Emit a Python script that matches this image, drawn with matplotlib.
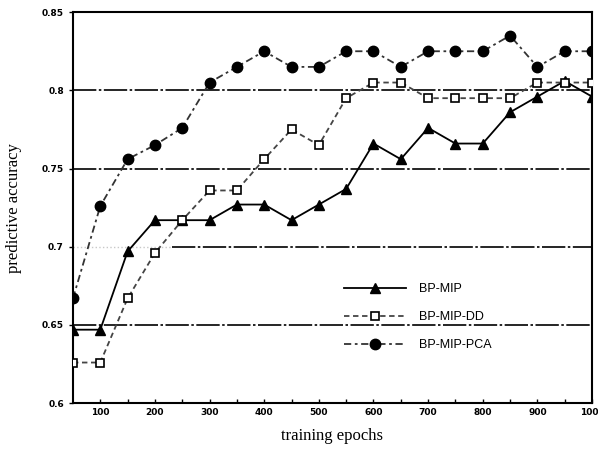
import matplotlib
matplotlib.use('Agg')
import matplotlib.pyplot as plt

# data
epochs = [50, 100, 150, 200, 250, 300, 350, 400, 450, 500,
          550, 600, 650, 700, 750, 800, 850, 900, 950, 1000]
bp_mip = [0.647, 0.647, 0.697, 0.717, 0.717, 0.717, 0.727, 0.727, 0.717, 0.727,
          0.737, 0.766, 0.756, 0.776, 0.766, 0.766, 0.786, 0.796, 0.806, 0.796]
bp_mip_dd = [0.626, 0.626, 0.667, 0.696, 0.717, 0.736, 0.736, 0.756, 0.775, 0.765,
             0.795, 0.805, 0.805, 0.795, 0.795, 0.795, 0.795, 0.805, 0.805, 0.805]
bp_mip_pca = [0.667, 0.726, 0.756, 0.765, 0.776, 0.805, 0.815, 0.825, 0.815, 0.815,
              0.825, 0.825, 0.815, 0.825, 0.825, 0.825, 0.835, 0.815, 0.825, 0.825]

y_ticks = [0.6, 0.65, 0.7, 0.75, 0.8, 0.85]
y_labels = ['0.6', '0.65', '0.7', '0.75', '0.8', '0.85']
x_ticks = [100, 200, 300, 400, 500, 600, 700, 800, 900, 1000]

fig = plt.figure(figsize=(5.98, 4.5), dpi=100)
ax = fig.add_axes([0.122, 0.104, 0.868, 0.869])

# horizontal reference lines
gstyle = (0, (14, 1.5, 1.5, 1.5))
for yv in [0.65, 0.75, 0.8]:
    ax.axhline(yv, color='black', linewidth=1.2, linestyle=gstyle, zorder=1)
ax.axhline(0.7, xmin=0.0, xmax=0.19, color='#c8c8c8', linewidth=1.0, linestyle=':', zorder=1)
ax.axhline(0.7, xmin=0.19, xmax=1.0, color='black', linewidth=1.2, linestyle=gstyle, zorder=1)

ax.plot(epochs, bp_mip, color='black', linestyle='-', linewidth=1.3,
        marker='^', markersize=7, label='BP-MIP', zorder=3)
ax.plot(epochs, bp_mip_dd, color='#444444', linestyle=(0, (3, 2)), linewidth=1.3,
        marker='s', markersize=6, markerfacecolor='white', markeredgecolor='black',
        markeredgewidth=1.2, label='BP-MIP-DD', zorder=3)
ax.plot(epochs, bp_mip_pca, color='#333333', linestyle=(0, (4, 2, 1.5, 2)), linewidth=1.3,
        marker='o', markersize=7.5, markerfacecolor='black', markeredgecolor='black',
        label='BP-MIP-PCA', zorder=4)

ax.set_xlim(50, 1000)
ax.set_ylim(0.6, 0.85)
ax.set_xticks(x_ticks)
ax.set_xticklabels([str(v) for v in x_ticks], fontsize=6.5, fontweight='bold')
ax.set_xticks([150, 250, 350, 450, 550, 650, 750, 850, 950], minor=True)
ax.set_yticks(y_ticks)
ax.set_yticklabels(y_labels, fontsize=6.5, fontweight='bold')
ax.tick_params(axis='x', which='both', direction='in', length=3, width=1)
ax.tick_params(axis='y', direction='out', length=3, width=1)
for s in ax.spines.values():
    s.set_linewidth(1.5)

ax.set_xlabel('training epochs', fontsize=12, family='Liberation Serif', labelpad=8)
ax.set_ylabel('predictive accuracy', fontsize=12, family='Liberation Serif', labelpad=14)

leg = ax.legend(loc='center left', bbox_to_anchor=(0.5, 0.22), frameon=False,
                handlelength=5.0, labelspacing=1.3, handletextpad=1.0,
                prop={'family': 'Liberation Sans', 'size': 9})

fig.savefig('out.png', dpi=100)
